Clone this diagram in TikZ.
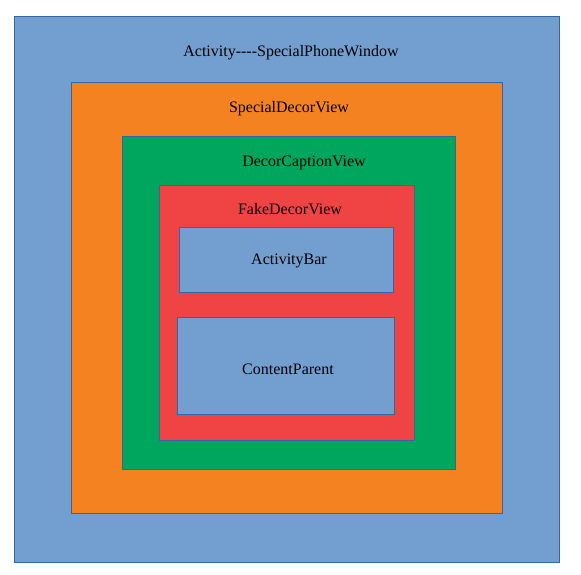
\documentclass[tikz,border=0pt]{standalone}
\usepackage{fontspec}
\setmainfont{Liberation Serif}[Ligatures=TeXOff]
\usepackage{xcolor}
\definecolor{skyblue}{HTML}{729FCF}
\definecolor{edgeblue}{HTML}{3465A4}
\definecolor{decororange}{HTML}{F58220}
\definecolor{captiongreen}{HTML}{00A65D}
\definecolor{fakered}{HTML}{F04343}

\begin{document}
\begin{tikzpicture}[x=0.75pt, y=-0.75pt, line width=0.75pt,
        layer/.style={draw=edgeblue},
        caption/.style={inner sep=0pt, font=\fontsize{12}{14}\selectfont}]
        \useasboundingbox (0,0) rectangle (581,574);
        % window
        \draw [layer, fill=skyblue] (14, 17) rectangle (559, 562);
        \node (window) [caption] at (291, 53) {Activity----SpecialPhoneWindow};
        % decor view
        \draw [layer, fill=decororange] (71, 83) rectangle (502, 513);
        \node (decor) [caption] at (289, 109) {SpecialDecorView};
        % caption view
        \draw [layer, fill=captiongreen] (122, 137) rectangle (455, 469);
        \node (captionview) [caption] at (304, 163) {DecorCaptionView};
        % fake decor view
        \draw [layer, fill=fakered] (159, 185) rectangle (414, 440);
        \node (fakedecor) [caption] at (290, 209) {FakeDecorView};
        % bar and content
        \draw [layer, fill=skyblue] (179, 227) rectangle (393, 292);
        \node (bar) [caption] at (289, 261) {ActivityBar};
        \draw [layer, fill=skyblue] (177, 317) rectangle (394, 414);
        \node (content) [caption] at (288, 369) {ContentParent};
    \end{tikzpicture}
\end{document}
